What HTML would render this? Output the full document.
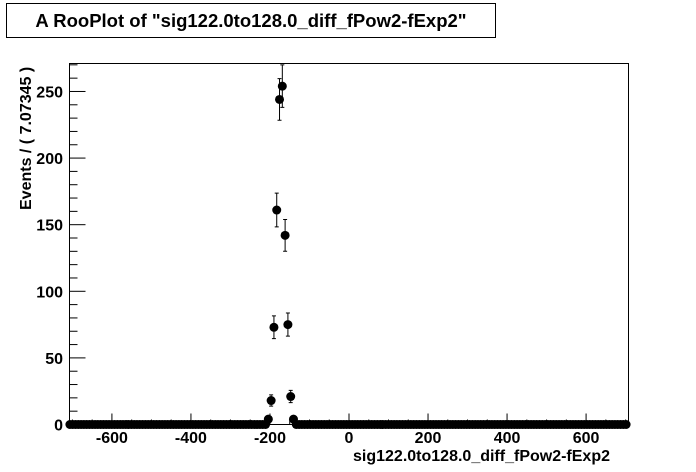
<!DOCTYPE html>
<html><head><meta charset="utf-8"><style>
body{margin:0;background:#fff;}
svg{display:block;font-family:"Liberation Sans",Arial,sans-serif;font-weight:bold;}
</style></head><body>
<svg width="696" height="472" viewBox="0 0 696 472">
<rect x="0" y="0" width="696" height="472" fill="#fff"/>
<g>
<rect x="6.5" y="3.5" width="489" height="34" fill="#fff" stroke="#000" stroke-width="1"/>
<text x="251" y="27" text-anchor="middle" font-size="18.5" font-weight="bold">A RooPlot of "sig122.0to128.0_diff_fPow2-fExp2"</text>
</g>
<rect x="69.5" y="63.5" width="559" height="361" fill="none" stroke="#000" stroke-width="1"/>
<g id="axes"></g>
<g id="marks"></g>
<text x="610" y="461" text-anchor="end" font-size="16">sig122.0to128.0_diff_fPow2-fExp2</text>
<text transform="translate(31,210) rotate(-90)" text-anchor="start" font-size="16">Events / ( 7.07345 )</text>
</svg>
<script>
const nBins = 200;
const xMin = -707.345, xMax = 707.345;
const peakStartBin = 71;
const peakCounts = [4, 18, 73, 161, 244, 254, 142, 75, 21, 4];
const xTicks = [-600, -400, -200, 0, 200, 400, 600];
const yTicks = [0, 50, 100, 150, 200, 250];
const yMax = 271;

const L = 69.5, R = 628.5, T = 63.5, B = 424.5;
const sx = v => L + (v - xMin) / (xMax - xMin) * (R - L);
const sy = v => B - v / yMax * (B - T);
const NS = 'http://www.w3.org/2000/svg';
function mk(tag, attrs, parent){const e=document.createElementNS(NS,tag);for(const k in attrs)e.setAttribute(k,attrs[k]);parent.appendChild(e);return e;}
const axes = document.getElementById('axes');
const marks = document.getElementById('marks');

for (let v = 0; v <= yMax; v += 10) {
  const major = v % 50 === 0;
  const t = mk('line',{x1:L,x2:L+(major?16:8),y1:sy(v),y2:sy(v),stroke:'#000','stroke-width':1},axes);
  
  
}
yTicks.forEach(v=>{
  const t = mk('text',{x:63,y:sy(v)+6,'text-anchor':'end','font-size':16},axes);
  t.textContent = v;
  
  
});
for (let v = -700; v <= 700; v += 50) {
  const major = v % 200 === 0;
  const t = mk('line',{x1:sx(v),x2:sx(v),y1:B,y2:B-(major?11:5),stroke:'#000','stroke-width':1},axes);
  
  
}
xTicks.forEach(v=>{
  const t = mk('text',{x:sx(v),y:443,'text-anchor':'middle','font-size':16},axes);
  t.textContent = v;
  
  
});

const w = (xMax - xMin) / nBins;
for (let i = 0; i < nBins; i++) {
  const k = i - peakStartBin;
  const n = (k >= 0 && k < peakCounts.length) ? peakCounts[k] : 0;
  const cx = sx(xMin + (i + 0.5) * w) - 1, cy = sy(n);
  if (n > 0) {
    const e = Math.sqrt(n);
    const eb = mk('path',{d:`M${cx},${sy(n+e)}V${sy(n-e)}M${cx-2},${sy(n+e)}h4M${cx-2},${sy(n-e)}h4`,stroke:'#000','stroke-width':1,fill:'none'},marks);
    
    
  }
  const c = mk('circle',{cx:cx,cy:cy,r:4.5,fill:'#000'},marks);
  
  
}
</script>
</body></html>
